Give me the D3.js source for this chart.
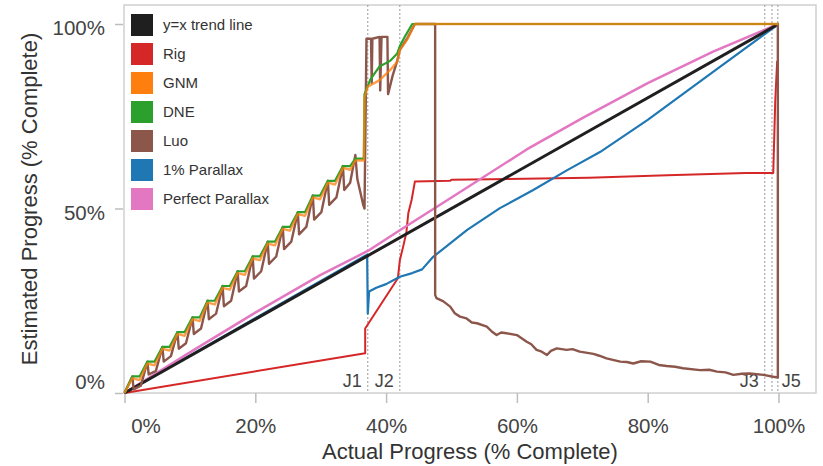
<!DOCTYPE html>
<html>
<head>
<meta charset="utf-8">
<title>Progress estimators</title>
<style>
  body {
    margin: 0;
    background: #fff;
    font-family: "Liberation Sans", Arial, sans-serif;
  }
</style>
</head>
<body>
<div id="vis"></div>
<script src="https://d3js.org/d3.v7.min.js"></script>
<script>
// tick values
var xTicks = [0, 20, 40, 60, 80, 100];
var yTicks = [0, 50, 100];

// series, [actual %, estimated %]
var trendLine = [[0, 0], [100, 100]];

var rig = [[0, 0], [36.8, 10.8], [36.8, 17.5], [41.8, 31.1], [42.1, 36], [42.6, 39.6],
  [43.1, 43.5], [43.4, 48.8], [43.9, 52.3], [44.4, 57.3], [49.8, 57.5], [50, 57.8],
  [71, 58.3], [83, 59], [95, 59.6], [99.2, 59.6], [99.5, 79], [99.8, 90]];

var gnm = [[0, 0], [1.2, 4], [2.3, 3.5], [3.5, 8], [4.6, 7.5], [5.8, 12], [6.9, 11.5],
  [8.1, 16], [9.2, 15.5], [10.4, 20], [11.5, 19.5], [12.7, 24.5], [13.8, 24],
  [15, 28.5], [16.1, 28], [17.3, 32.5], [18.4, 32], [19.6, 36.5], [20.7, 36],
  [21.9, 40.5], [23, 40], [24.2, 44.5], [25.3, 44], [26.5, 48.5], [27.6, 48],
  [28.8, 53], [29.9, 52.5], [31.1, 57], [32.2, 56.5], [33.4, 61], [34.5, 60.5],
  [35.3, 63], [36.6, 63], [36.7, 80.2], [37.2, 83], [39, 84.8], [40.6, 87.5],
  [41.7, 89.7], [42.1, 93], [43.2, 95.7], [44.4, 100], [100, 100]];

var dne = [[0, 0], [1.2, 4.5], [2.3, 4.5], [3.5, 8.5], [4.6, 8.5], [5.8, 12.5], [6.9, 12.5],
  [8.1, 16.5], [9.2, 16.5], [10.4, 20.5], [11.5, 20.5], [12.7, 25], [13.8, 25],
  [15, 29], [16.1, 29], [17.3, 33], [18.4, 33], [19.6, 37], [20.7, 37],
  [21.9, 41], [23, 41], [24.2, 45], [25.3, 45], [26.5, 49], [27.6, 49],
  [28.8, 53.5], [29.9, 53.5], [31.1, 57.5], [32.2, 57.5], [33.4, 61.5], [34.5, 61.5],
  [35.3, 63.5], [36.6, 63.5], [36.7, 81], [37.6, 85], [39, 88.5], [40.6, 90],
  [41.7, 92], [42.1, 94], [43, 97], [44, 100], [100, 100]];

var luo = [[0, 0], [1.2, 4.5], [1.4, 1], [2.5, 2], [3.5, 8.5], [3.7, 5], [4.8, 6],
  [5.8, 12.5], [6, 8.5], [7.1, 10], [8.1, 16.5], [8.3, 12], [9.4, 13.5],
  [10.4, 20.5], [10.6, 16], [11.7, 17.5], [12.7, 25], [12.9, 20], [14, 21.5],
  [15, 29], [15.2, 23.5], [16.3, 25], [17.3, 33], [17.5, 27.5], [18.6, 29],
  [19.6, 37], [19.8, 31], [20.9, 33], [21.9, 41], [22.1, 35], [23.2, 37],
  [24.2, 45], [24.4, 39], [25.5, 41], [26.5, 49], [26.7, 43], [27.8, 45],
  [28.8, 53.5], [29, 47], [30.1, 49], [31.1, 57.5], [31.3, 51], [32.4, 53],
  [33.4, 61.5], [33.6, 55], [34.5, 57], [35.3, 64.5], [35.6, 58], [36.5, 51],
  [36.7, 50], [37, 96], [37.7, 96], [37.8, 84], [37.9, 96], [39, 96.5], [39.1, 82],
  [39.3, 96.5], [40.2, 96.5], [40.3, 81], [41, 86], [41.7, 90], [42.1, 93],
  [43.2, 96], [44.4, 100], [47.5, 100], [47.5, 26.6], [47.7, 25.7], [48.7, 24.9],
  [49.8, 23.4], [50.5, 21.6], [51.3, 20.7], [52.3, 20.2], [53.1, 19.1], [53.9, 18.9],
  [55.4, 18], [56.2, 16.6], [56.9, 15.7], [57.6, 16.4], [58.4, 16.2], [60, 15.7],
  [61.5, 13.9], [62.2, 13.2], [63, 11.7], [63.8, 11.2], [64.6, 10.3], [65.2, 11.4],
  [66.1, 12.1], [67.6, 11.7], [68.5, 11.9], [69.6, 11.2], [71.7, 10.6], [72.6, 10.1],
  [73.7, 9.4], [75.8, 8.5], [76.8, 8.4], [77.8, 8], [79, 8.6], [80.4, 8.5],
  [81.7, 7.6], [82.9, 7.3], [84.2, 7.1], [85.4, 6.7], [88, 6.2], [89.4, 6.3],
  [90.6, 5.8], [91.9, 5.6], [93.1, 4.9], [94.4, 5.2], [95.6, 5.3], [97.7, 4.9],
  [99.2, 4.4], [99.9, 4.2], [99.9, 100], [100, 100]];

var parallax1 = [[0, 0], [20, 20.3], [37.1, 37.5], [37.2, 21.5], [37.4, 27.5], [38.5, 28.5],
  [40, 29.5], [42.1, 31.5], [44, 32.5], [45.5, 33.5], [47.2, 36.9], [52.4, 44.2],
  [57.4, 50.1], [62.5, 55], [67.7, 60.4], [72.7, 65.3], [80, 74], [90, 87], [100, 100]];

var perfectParallax = [[0, 0], [10, 11], [20, 21.8], [30, 32], [37.2, 38.5], [42.1, 44.1],
  [50, 53], [61.5, 66], [70, 74.5], [80, 84], [90, 92.5], [100, 100]];

var seriesNames = ["y=x trend line", "Rig", "GNM", "DNE", "Luo", "1% Parallax", "Perfect Parallax"];

// job boundaries on the x axis
var jobLabels = ["J1", "J2", "J3", "J4", "J5"];
var jobStarts = [37.2, 42.1, 97.9, 99.0, 99.9];

var width = 823, height = 466;

var svg = d3.select("#vis").append("svg")
  .attr("width", width)
  .attr("height", height);

var x = d3.scaleLinear().domain([0, 100]).range([124.5, 778.5]);
var y = d3.scaleLinear().domain([0, 100]).range([393, 24]);

var colors = {
  "y=x trend line": "#1f1f1f",
  "Rig": "#d62728",
  "GNM": "#ff7f0e",
  "DNE": "#2ca02c",
  "Luo": "#8c564b",
  "1% Parallax": "#1f77b4",
  "Perfect Parallax": "#e377c2"
};

// plot box
svg.append("rect")
  .attr("x", 124).attr("y", 5)
  .attr("width", 692).attr("height", 388)
  .attr("fill", "none")
  .attr("stroke", "#cfcfcf")
  .attr("stroke-width", 1.5);

// x axis
var gx = svg.append("g")
  .attr("transform", "translate(0,393)")
  .call(d3.axisBottom(x).tickValues(xTicks).tickSize(10).tickPadding(15)
    .tickFormat(function(d) { return d + "%"; }));
gx.select(".domain").remove();
gx.selectAll(".tick line").attr("stroke", "#bdbdbd").attr("stroke-width", 1.5);
gx.selectAll(".tick text")
  .attr("fill", "#444")
  .style("font-size", "20.5px")
  .style("font-family", "Liberation Sans, Arial, sans-serif")
  .attr("dx", function(d) { return d === 0 ? 21 : 0; });

// y axis
var gy = svg.append("g")
  .attr("transform", "translate(123,0)")
  .call(d3.axisLeft(y).tickValues(yTicks).tickSize(8).tickPadding(10)
    .tickFormat(function(d) { return d + "%"; }));
gy.select(".domain").remove();
gy.selectAll(".tick line").attr("stroke", "#bdbdbd").attr("stroke-width", 1.5);
gy.selectAll(".tick text")
  .attr("fill", "#444")
  .style("font-size", "20.5px")
  .style("font-family", "Liberation Sans, Arial, sans-serif")
  .attr("dy", function(d) { return d === 0 ? "-0.2em" : "0.52em"; });

// axis titles
svg.append("text")
  .attr("x", 470).attr("y", 459)
  .attr("text-anchor", "middle")
  .attr("fill", "#333")
  .style("font-size", "22px")
  .text("Actual Progress (% Complete)");

svg.append("text")
  .attr("transform", "translate(37,199) rotate(-90)")
  .attr("text-anchor", "middle")
  .attr("fill", "#333")
  .style("font-size", "22px")
  .text("Estimated Progress (% Complete)");

// job boundaries
var jobs = svg.append("g");
jobStarts.forEach(function(v, i) {
  jobs.append("line")
    .attr("x1", x(v)).attr("x2", x(v))
    .attr("y1", 5).attr("y2", 393)
    .attr("stroke", "#9a9a9a")
    .attr("stroke-width", 1)
    .attr("stroke-dasharray", "2,2");
  var last = i === jobStarts.length - 1;
  jobs.append("text")
    .attr("x", last ? x(v) + 4 : x(v) - 6)
    .attr("y", 387)
    .attr("text-anchor", last ? "start" : "end")
    .attr("fill", "#444")
    .style("font-size", "18px")
    .text(jobLabels[i] === "J4" ? "" : jobLabels[i]);
});

var line = d3.line()
  .x(function(d) { return x(d[0]); })
  .y(function(d) { return y(d[1]); });

function drawSeries(data, name, w, op) {
  svg.append("path")
    .datum(data)
    .attr("fill", "none")
    .attr("stroke", colors[name])
    .attr("stroke-width", w)
    .attr("stroke-opacity", op)
    .attr("stroke-linejoin", "round")
    .attr("d", line);
}

drawSeries(rig, "Rig", 2, 1);
drawSeries(parallax1, "1% Parallax", 2.2, 1);
drawSeries(perfectParallax, "Perfect Parallax", 2.5, 1);
drawSeries(trendLine, "y=x trend line", 3, 1);
drawSeries(luo, "Luo", 2.4, 1);
drawSeries(dne, "DNE", 2.2, 1);
drawSeries(gnm, "GNM", 2.4, 0.75);

// legend
var legend = svg.append("g");
seriesNames.forEach(function(name, i) {
  var cy = 25 + i * 29;
  legend.append("rect")
    .attr("x", 131).attr("y", cy - 11)
    .attr("width", 22).attr("height", 22)
    .attr("fill", colors[name]);
  legend.append("text")
    .attr("x", 163).attr("y", cy)
    .attr("dy", "0.35em")
    .attr("fill", "#333")
    .style("font-size", "15px")
    .text(name);
});
</script>
</body>
</html>
